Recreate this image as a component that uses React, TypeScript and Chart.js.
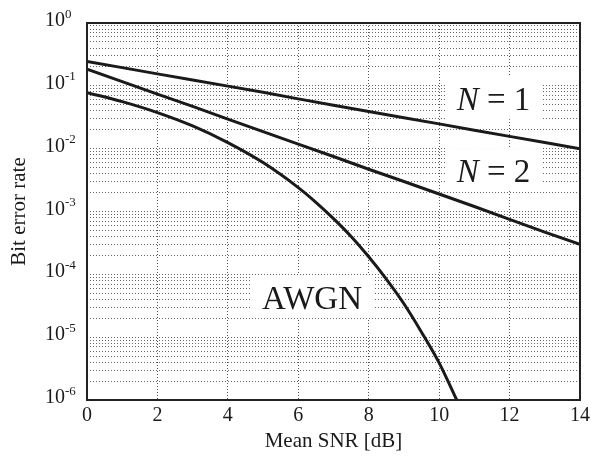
import React, { useEffect, useRef } from 'react';
import { Chart, registerables } from 'chart.js';

Chart.register(...registerables);

// ---- Data ----
const snrDb = [0, 1, 2, 3, 4, 5, 6, 7, 8, 9, 10, 11, 12, 13, 14];
const berN1 = [0.245, 0.195, 0.155, 0.124, 0.099, 0.079, 0.062, 0.049, 0.039, 0.031, 0.0248, 0.0197, 0.0157, 0.0125, 0.01];
const berN2 = [0.185, 0.117, 0.074, 0.047, 0.0296, 0.0187, 0.0118, 0.0075, 0.0047, 0.003, 0.0019, 0.0012, 0.00075, 0.00047, 0.0003];
const snrAwgn = [0, 1, 2, 3, 4, 5, 6, 6.5, 7, 7.5, 8, 8.5, 9, 9.5, 10, 10.5];
const berAwgn = [0.078, 0.056, 0.0375, 0.023, 0.0125, 0.006, 0.0024, 0.0014, 0.00077, 0.0004, 0.00019, 0.000084, 0.000034, 0.000012, 0.0000039, 0.000001];

const xTickValues = [0, 2, 4, 6, 8, 10, 12, 14];
const yTickExponents = [0, -1, -2, -3, -4, -5, -6];
const xTitle = 'Mean SNR [dB]';
const yTitle = 'Bit error rate';

const curveLabels = [
  { italic: 'N', text: ' = 1', x: 10.5, y: 0.041 },
  { italic: 'N', text: ' = 2', x: 10.5, y: 0.00294 },
  { italic: '', text: 'AWGN', x: 4.97, y: 0.000028 },
];

const FONT = '"Liberation Serif", "Times New Roman", serif';
const INK = '#1a1a1a';

function buildYGrid(): number[] {
  const vals: number[] = [];
  for (let e = -6; e < 0; e++) {
    for (let m = 1; m <= 9; m++) vals.push(m * Math.pow(10, e));
  }
  vals.push(1);
  return vals;
}

const customDraw = {
  id: 'customDraw',
  beforeDatasetsDraw(chart: any) {
    const { ctx, scales } = chart;
    const xs = scales.x;
    const ys = scales.y;
    ctx.save();
    curveLabels.forEach((l) => {
      const px = xs.getPixelForValue(l.x);
      const py = ys.getPixelForValue(l.y);
      ctx.font = `italic 33px ${FONT}`;
      const w1 = l.italic ? ctx.measureText(l.italic).width : 0;
      ctx.font = `33px ${FONT}`;
      const w2 = ctx.measureText(l.text).width;
      ctx.fillStyle = '#fff';
      ctx.fillRect(px - 10, py - 34, w1 + w2 + 22, 43);
      ctx.fillStyle = INK;
      ctx.textAlign = 'left';
      ctx.textBaseline = 'alphabetic';
      if (l.italic) {
        ctx.font = `italic 33px ${FONT}`;
        ctx.fillText(l.italic, px, py);
      }
      ctx.font = `33px ${FONT}`;
      ctx.fillText(l.text, px + w1, py);
    });
    ctx.restore();
  },
  afterDraw(chart: any) {
    const { ctx, chartArea, scales } = chart;
    const xs = scales.x;
    const ys = scales.y;
    const { left, right, top, bottom } = chartArea;
    ctx.save();
    // frame
    ctx.setLineDash([]);
    ctx.strokeStyle = '#222';
    ctx.lineWidth = 2;
    ctx.strokeRect(left, top, right - left, bottom - top);

    ctx.fillStyle = INK;
    ctx.textBaseline = 'alphabetic';
    // y tick labels 10^k
    yTickExponents.forEach((e) => {
      const py = ys.getPixelForValue(Math.pow(10, e));
      ctx.textAlign = 'left';
      ctx.font = `20px ${FONT}`;
      const base = '10';
      const bw = ctx.measureText(base).width;
      const lx = left - 42;
      ctx.fillText(base, lx, py + 3);
      ctx.font = `13px ${FONT}`;
      ctx.fillText(e === 0 ? '0' : '-' + String(-e), lx + bw, py - 5.5);
    });
    // x tick labels
    ctx.font = `20px ${FONT}`;
    ctx.textAlign = 'center';
    xTickValues.forEach((v) => {
      ctx.fillText(String(v), xs.getPixelForValue(v), bottom + 20.5);
    });
    // x title
    ctx.font = `21px ${FONT}`;
    ctx.fillText(xTitle, (left + right) / 2, bottom + 47);
    // y title
    ctx.save();
    ctx.translate(25, (top + bottom) / 2);
    ctx.rotate(-Math.PI / 2);
    ctx.font = `21px ${FONT}`;
    ctx.textAlign = 'center';
    ctx.fillText(yTitle, 0, 0);
    ctx.restore();
    ctx.restore();
  },
};

export default function App() {
  const canvasRef = useRef<HTMLCanvasElement | null>(null);

  useEffect(() => {
    const canvas = canvasRef.current;
    if (!canvas) return;
    const yGrid = buildYGrid();
    const lineStyle = {
      borderColor: INK,
      borderWidth: 3,
      pointRadius: 0,
      fill: false,
    };
    const chart = new Chart(canvas, {
      type: 'line',
      data: {
        datasets: [
          { ...lineStyle, label: 'N = 1', data: snrDb.map((x, i) => ({ x, y: berN1[i] })) },
          { ...lineStyle, label: 'N = 2', data: snrDb.map((x, i) => ({ x, y: berN2[i] })) },
          {
            ...lineStyle,
            label: 'AWGN',
            cubicInterpolationMode: 'monotone',
            data: snrAwgn.map((x, i) => ({ x, y: berAwgn[i] })),
          },
        ],
      } as any,
      options: {
        animation: false,
        responsive: false,
        devicePixelRatio: 1,
        layout: { padding: { top: 23, right: 11, left: 0, bottom: 0 } },
        plugins: { legend: { display: false }, tooltip: { enabled: false } },
        scales: {
          x: {
            type: 'linear',
            min: 0,
            max: 14,
            ticks: { display: false, stepSize: 2 },
            grid: { color: '#555', lineWidth: 1, drawTicks: false },
            border: { display: false, dash: [1, 2] },
            afterFit: (s: any) => {
              s.height = 57;
            },
          },
          y: {
            type: 'logarithmic',
            min: 1e-6,
            max: 1,
            ticks: { display: false },
            grid: { color: '#666', lineWidth: 1, drawTicks: false },
            border: { display: false, dash: [1, 2] },
            afterBuildTicks: (s: any) => {
              s.ticks = yGrid.map((v) => ({ value: v }));
            },
            afterFit: (s: any) => {
              s.width = 87;
            },
          },
        },
      } as any,
      plugins: [customDraw],
    });
    return () => chart.destroy();
  }, []);

  return (
    <div style={{ position: 'absolute', left: 0, top: 0, width: 591, height: 457, background: '#fff' }}>
      <canvas ref={canvasRef} width={591} height={457} style={{ display: 'block' }} />
    </div>
  );
}
